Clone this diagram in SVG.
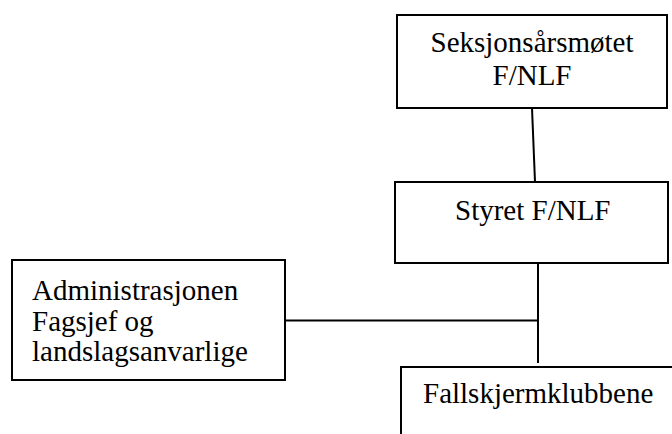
<svg xmlns="http://www.w3.org/2000/svg" width="672" height="434" viewBox="0 0 672 434">
<style>
.box{fill:#fff;stroke:#000;stroke-width:2}
.ln{stroke:#000;stroke-width:2;fill:none}
text{font-family:"Liberation Serif","Times New Roman",serif;font-size:29px;fill:#000}
.c{text-anchor:middle}
</style>
<rect width="672" height="434" fill="#fff"/>
<g id="connectors">
<line class="ln" x1="532" y1="108" x2="535" y2="182"/>
<line class="ln" x1="538" y1="263" x2="538" y2="363"/>
<line class="ln" x1="285" y1="320.5" x2="538" y2="320.5"/>
</g>
<g id="seksjonsarsmotet">
<rect class="box" x="397" y="15" width="270" height="93"/>
<text class="c" x="532" y="52">Seksjonsårsmøtet</text>
<text class="c" x="532" y="85">F/NLF</text>
</g>
<g id="styret">
<rect class="box" x="395" y="182" width="273" height="81"/>
<text x="455" y="220">Styret F/NLF</text>
</g>
<g id="administrasjonen">
<rect class="box" x="12" y="260" width="273" height="120"/>
<text x="32" y="300">Administrasjonen</text>
<text x="32" y="331">Fagsjef og</text>
<text x="32" y="361">landslagsanvarlige</text>
</g>
<g id="fallskjermklubbene">
<rect class="box" x="401" y="367" width="290" height="100"/>
<text x="423" y="403">Fallskjermklubbene</text>
</g>
</svg>
